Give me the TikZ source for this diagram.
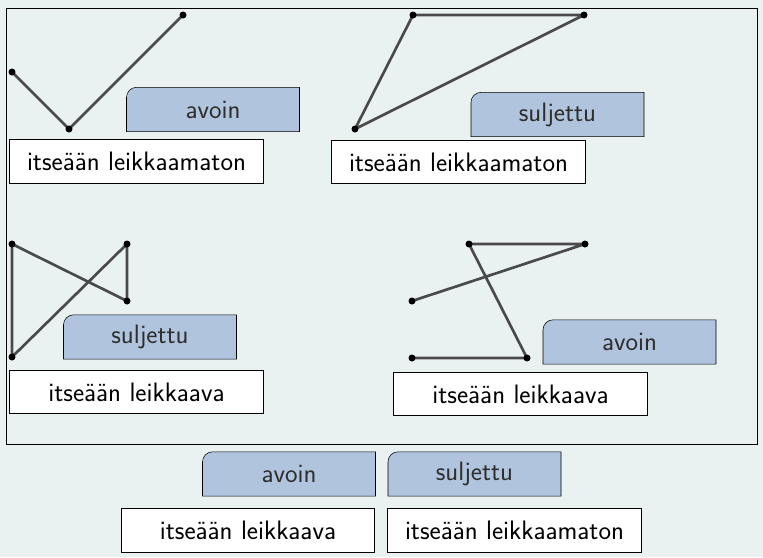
\documentclass[tikz,border=0pt]{standalone}
\usetikzlibrary{backgrounds}

\definecolor{pagebg}{HTML}{EAF2F1}
\definecolor{tabblue}{HTML}{B0C4DE}
\definecolor{segcol}{HTML}{4A4A4A}
\definecolor{tabtext}{HTML}{2E2E2E}

\tikzset{every picture/.style={line width=0.75pt}}
\tikzset{
  tabbox/.style={inner sep=0pt, minimum width=129pt, minimum height=32.5pt,
    font=\sffamily\fontsize{20}{24}\selectfont, text=tabtext},
  namebox/.style={draw, fill=white, inner sep=0pt, minimum width=190pt, minimum height=32.5pt,
    font=\sffamily\fontsize{20}{24}\selectfont, text=black},
  seg/.style={draw=segcol, line width=2pt, line join=round},
}

\begin{document}
\begin{tikzpicture}[x=0.75pt,y=0.75pt,yscale=-1,xscale=1]
\useasboundingbox (0,0) rectangle (763,557);

%Polyline: avoin, itseään leikkaamaton
\coordinate (a1) at (12,72);
\coordinate (a2) at (69,129);
\coordinate (a3) at (183,15);
\draw [seg] (a1) -- (a2) -- (a3);
%Polygon: suljettu, itseään leikkaamaton
\coordinate (b1) at (355,129);
\coordinate (b2) at (413,15);
\coordinate (b3) at (584,15);
\draw [seg] (b1) -- (b2) -- (b3) -- cycle;
%Polygon: suljettu, itseään leikkaava
\coordinate (c1) at (12,244);
\coordinate (c2) at (127,301);
\coordinate (c3) at (127,244);
\coordinate (c4) at (12,357);
\draw [seg] (c1) -- (c2) -- (c3) -- (c4) -- cycle;
%Polyline: avoin, itseään leikkaava
\coordinate (d1) at (412,301);
\coordinate (d2) at (585,244);
\coordinate (d3) at (469,244);
\coordinate (d4) at (527,358);
\coordinate (d5) at (412,358);
\draw [seg] (d1) -- (d2) -- (d3) -- (d4) -- (d5);
%Vertices
\foreach \p in {a1,a2,a3,b1,b2,b3,c1,c2,c3,c4,d1,d2,d3,d4,d5}
  \fill (\p) circle [radius=3.5];

% Text Node
\node [tabbox] (t1) at (213,109.5) {avoin};
% Text Node
\node [namebox] (n1) at (136.5,161.5) {itseään leikkaamaton};
% Text Node
\node [tabbox] (t2) at (557.5,114.5) {suljettu};
% Text Node
\node [namebox] (n2) at (458.5,162) {itseään leikkaamaton};
% Text Node
\node [tabbox] (t3) at (150,337) {suljettu};
% Text Node
\node [namebox] (n3) at (136.5,392) {itseään leikkaava};
% Text Node
\node [tabbox] (t4) at (629.5,342) {avoin};
% Text Node
\node [namebox] (n4) at (520.5,394) {itseään leikkaava};
% Text Node
\node [tabbox] (t5) at (289,474) {avoin};
% Text Node
\node [namebox] (n5) at (248,530.5) {itseään leikkaava};
% Text Node
\node [tabbox] (t6) at (474.5,474) {suljettu};
% Text Node
\node [namebox] (n6) at (514.5,530.5) {itseään leikkaamaton};

\begin{scope}[on background layer]
\fill [pagebg] (0,0) rectangle (763,557);
%Shape: Rectangle
\draw (6,8) rectangle (757,444);
%Shape: tabs with one rounded corner
\foreach \t in {t1,t2,t3,t4,t5,t6}
  \draw [fill=tabblue] (\t.south west) [rounded corners=7.5pt] -- (\t.north west) [sharp corners] -- (\t.north east) -- (\t.south east) -- cycle;
\end{scope}

\end{tikzpicture}
\end{document}
